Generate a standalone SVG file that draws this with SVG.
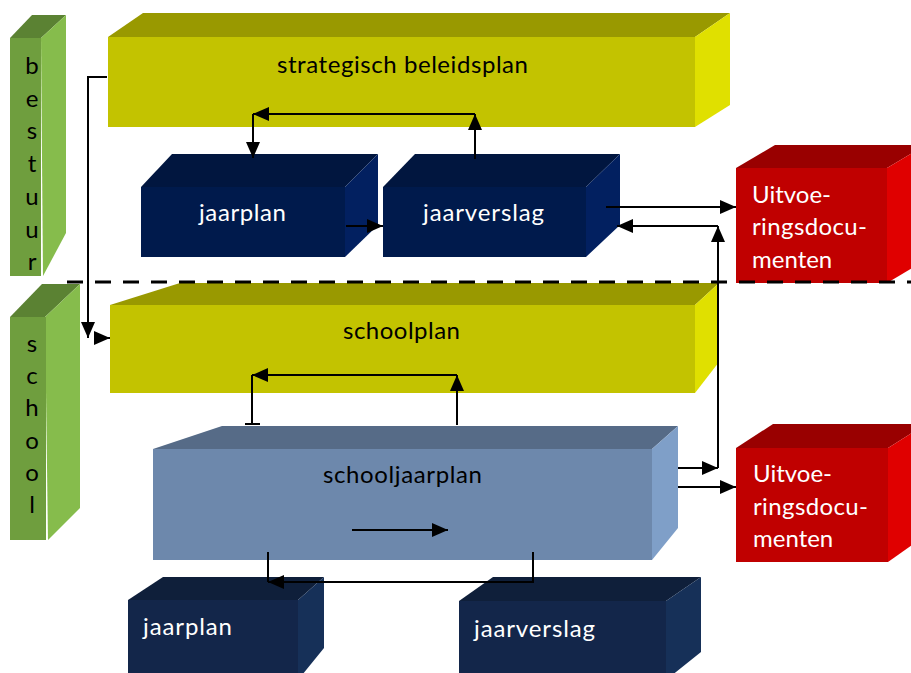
<svg xmlns="http://www.w3.org/2000/svg" width="911" height="673" viewBox="0 0 911 673">
<style>
text{font-family:Lato,"Open Sans","Liberation Sans",sans-serif;font-size:24px}
.dk{fill:#000}
.wt{fill:#fff}
.c{stroke:#000;stroke-width:2;fill:none}
.gt{fill:#5b8233}.gf{fill:#6f9e3e}.gs{fill:#86bc4c}
.yt{fill:#999900}.yf{fill:#c3c300}.ys{fill:#e0e000}
.nt{fill:#01163f}.nf{fill:#001a4c}.ns{fill:#022060}
.mt{fill:#0f1f3a}.mf{fill:#13264a}.ms{fill:#163058}
.bt{fill:#566b87}.bf{fill:#6d88ac}.bs{fill:#7f9fc8}
.rt{fill:#990000}.rf{fill:#c00000}.rs{fill:#e00000}
</style>
<defs>
<marker id="ah" markerUnits="userSpaceOnUse" markerWidth="16" markerHeight="14" refX="16" refY="7" orient="auto">
<path d="M0,0 L16,7 L0,14 z" fill="#000"/>
</marker>
</defs>

<g id="bestuur">
<polygon class="gt" points="10,38 32,15 66,15 41,38"/>
<polygon class="gs" points="41,38 66,15 66,233 43,276"/>
<rect class="gf" x="10" y="38" width="31" height="238"/>
<text class="dk" text-anchor="middle"><tspan x="32" y="74">b</tspan><tspan x="32" y="107">e</tspan><tspan x="32" y="139">s</tspan><tspan x="32" y="172">t</tspan><tspan x="32" y="205">u</tspan><tspan x="32" y="238">u</tspan><tspan x="32" y="270">r</tspan></text>
</g>

<g id="school">
<polygon class="gt" points="10,317 42,284 80,284 45,317"/>
<polygon class="gs" points="45,317 80,284 80,508 48,540"/>
<rect class="gf" x="10" y="317" width="36" height="223"/>
<text class="dk" text-anchor="middle"><tspan x="32" y="352">s</tspan><tspan x="32" y="384">c</tspan><tspan x="32" y="416">h</tspan><tspan x="32" y="449">o</tspan><tspan x="32" y="481">o</tspan><tspan x="32" y="513">l</tspan></text>
</g>

<g id="strategisch">
<polygon class="yt" points="108,37 143,13 730,13 695,37"/>
<polygon class="ys" points="695,37 730,13 730,105 695,127"/>
<rect class="yf" x="108" y="37" width="587" height="90"/>
<text class="dk" x="277" y="73" textLength="251">strategisch beleidsplan</text>
</g>

<g id="jaarplan1">
<polygon class="nt" points="141,187 172,154 378,154 345,187"/>
<polygon class="ns" points="345,187 378,154 378,225 345,257"/>
<rect class="nf" x="141" y="187" width="204" height="70"/>
<text class="wt" x="199" y="221" textLength="87">jaarplan</text>
</g>

<g id="jaarverslag1">
<polygon class="nt" points="383,187 415,154 620,154 586,187"/>
<polygon class="ns" points="586,187 620,154 620,225 586,257"/>
<rect class="nf" x="383" y="187" width="203" height="70"/>
<text class="wt" x="423" y="221" textLength="121">jaarverslag</text>
</g>

<g id="uitvoering1">
<polygon class="rt" points="736,168 775,145 926,145 887,168"/>
<polygon class="rs" points="887,168 926,145 926,260 887,283"/>
<rect class="rf" x="736" y="168" width="151" height="115"/>
<text class="wt"><tspan x="752" y="203">Uitvoe-</tspan><tspan x="752" y="235" textLength="115">ringsdocu-</tspan><tspan x="752" y="268">menten</tspan></text>
</g>

<g id="schoolplan">
<polygon class="yt" points="110,305 180,283 719,283 695,305"/>
<polygon class="ys" points="695,305 719,283 719,362 695,393"/>
<rect class="yf" x="110" y="305" width="585" height="88"/>
<text class="dk" x="343" y="339" textLength="117">schoolplan</text>
</g>

<g id="schooljaarplan">
<polygon class="bt" points="153,449 222,426 678,426 652,449"/>
<polygon class="bs" points="652,449 678,426 678,528 652,560"/>
<rect class="bf" x="153" y="449" width="499" height="111"/>
<text class="dk" x="323" y="483" textLength="159">schooljaarplan</text>
</g>

<g id="uitvoering2">
<polygon class="rt" points="736,448 773,424 926,424 888,448"/>
<polygon class="rs" points="888,448 926,424 926,535 888,562"/>
<rect class="rf" x="736" y="448" width="152" height="114"/>
<text class="wt"><tspan x="753" y="482">Uitvoe-</tspan><tspan x="753" y="515" textLength="115">ringsdocu-</tspan><tspan x="753" y="547">menten</tspan></text>
</g>

<g id="jaarplan2">
<polygon class="mt" points="128,600 163,577 324,577 298,600"/>
<polygon class="ms" points="298,600 324,577 324,648 298,680"/>
<rect class="mf" x="128" y="600" width="170" height="80"/>
<text class="wt" x="143" y="635" textLength="89">jaarplan</text>
</g>

<g id="jaarverslag2">
<polygon class="mt" points="459,601 493,577 701,577 666,601"/>
<polygon class="ms" points="666,601 701,577 701,652 666,680"/>
<rect class="mf" x="459" y="601" width="207" height="79"/>
<text class="wt" x="474" y="637" textLength="121">jaarverslag</text>
</g>

<g id="connectors">
<path class="c" d="M107,77 H88 V338" marker-end="url(#ah)"/>
<path class="c" d="M94,338 H110" marker-end="url(#ah)"/>
<path class="c" d="M475,159 V114" marker-end="url(#ah)"/>
<path class="c" d="M475,114 H253" marker-end="url(#ah)"/>
<path class="c" d="M253,114 V158" marker-end="url(#ah)"/>
<path class="c" d="M346,226 H383" marker-end="url(#ah)"/>
<path class="c" d="M606,207 H736" marker-end="url(#ah)"/>
<path class="c" d="M678,468 H718" marker-end="url(#ah)"/>
<path class="c" d="M718,468 V226" marker-end="url(#ah)"/>
<path class="c" d="M718,226 H617" marker-end="url(#ah)"/>
<path class="c" d="M678,487 H736" marker-end="url(#ah)"/>
<path class="c" d="M457,425 V375" marker-end="url(#ah)"/>
<path class="c" d="M457,375 H252" marker-end="url(#ah)"/>
<path class="c" d="M252,375 V424 M245,424 H260"/>
<path class="c" d="M352,530 H448" marker-end="url(#ah)"/>
<path class="c" d="M533,552 V582 H268" marker-end="url(#ah)"/>
<path class="c" d="M268,552 V582"/>
<path d="M67,282 H911" stroke="#000" stroke-width="3" stroke-dasharray="16 12" fill="none"/>
</g>
</svg>
